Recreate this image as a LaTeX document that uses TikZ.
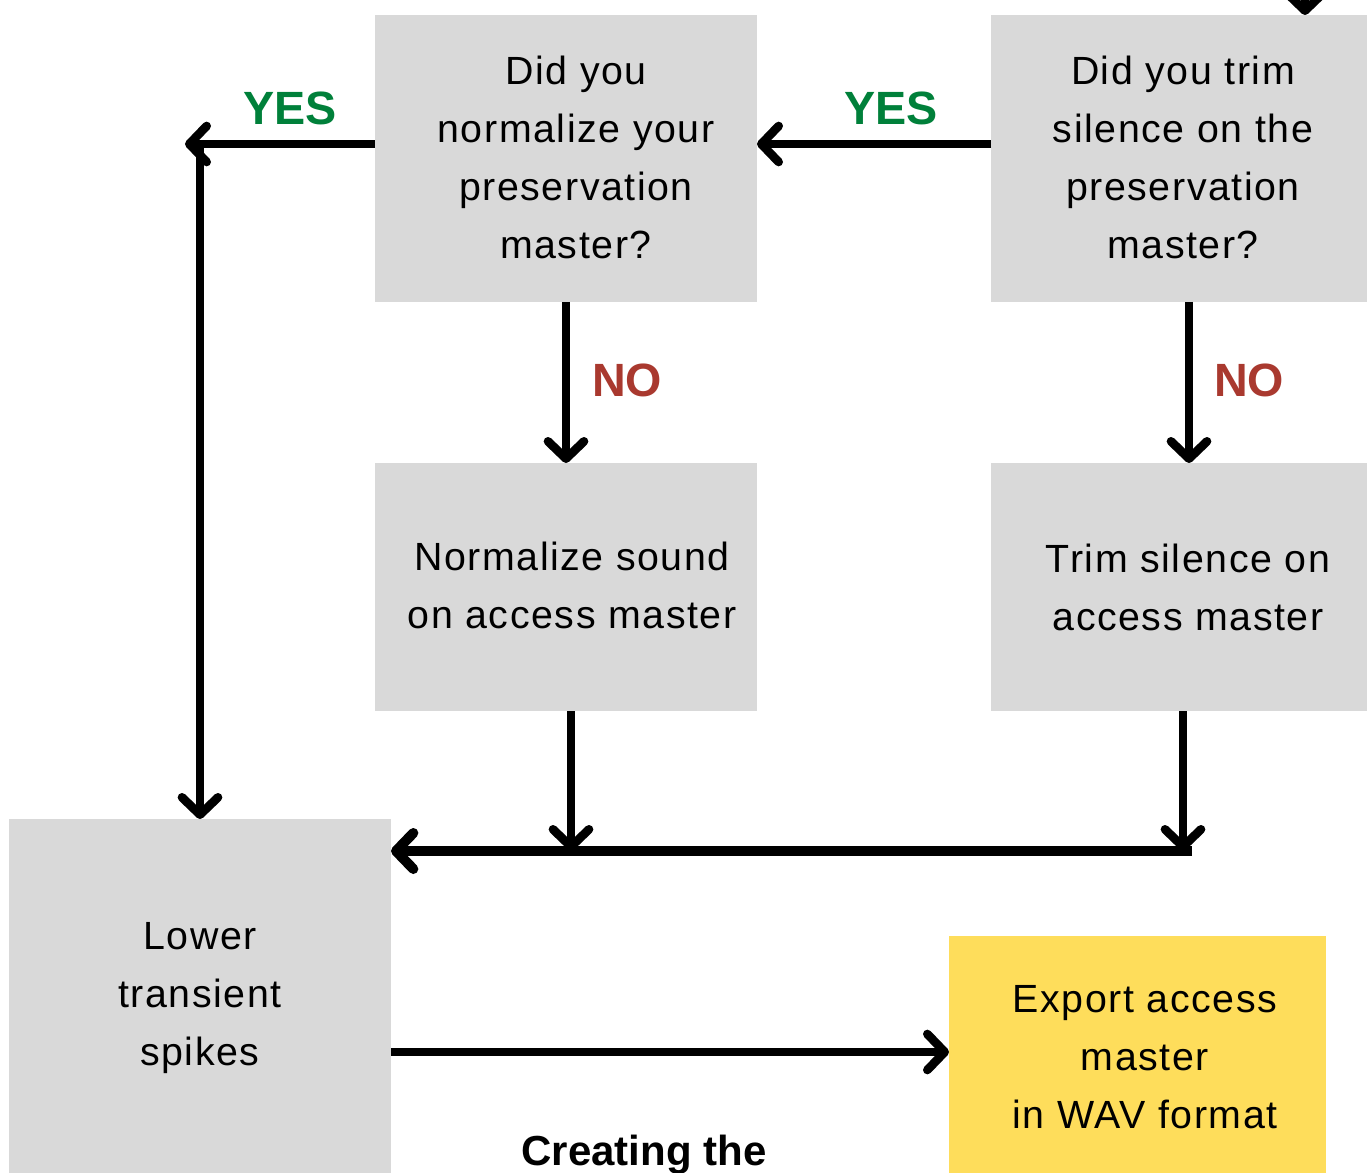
\documentclass[tikz,border=0pt]{standalone}
\usepackage{fontspec}
\setmainfont{Liberation Sans}
\newfontfamily\bodyfont[LetterSpace=4]{Liberation Sans}
\usetikzlibrary{arrows.meta,calc}
\definecolor{boxgray}{HTML}{D9D9D9}
\definecolor{boxyellow}{HTML}{FEDD5B}
\definecolor{yesgreen}{HTML}{00803A}
\definecolor{nored}{HTML}{A9392F}
\begin{document}
\begin{tikzpicture}[x=0.75pt,y=-0.75pt,
  box/.style={fill=boxgray,draw=none,inner sep=0pt,outer sep=0pt},
  txt/.style={align=center,font=\bodyfont\fontsize{29.5}{43.5}\selectfont,inner sep=0pt},
  yes/.style={font=\fontsize{35}{40}\selectfont\bfseries,text=yesgreen,inner sep=0pt},
  no/.style={font=\fontsize{35}{40}\selectfont\bfseries,text=nored,inner sep=0pt},
  arr/.style={line width=6.5pt,-{Straight Barb[length=13pt,width=27pt,round]}},
]
\useasboundingbox (0,0) rectangle (1367,1173);
\clip (0,0) rectangle (1367,1173);
% boxes
\node[box,minimum width=286.5pt,minimum height=215.25pt] (A) at (566,158.5) {};
\node[box,minimum width=282pt,minimum height=215.25pt] (B) at (1179,158.5) {};
\node[box,minimum width=286.5pt,minimum height=186pt] (C) at (566,587) {};
\node[box,minimum width=282pt,minimum height=186pt] (D) at (1179,587) {};
\node[box,minimum width=286.5pt,minimum height=270.75pt] (E) at (200,999.5) {};
\node[box,fill=boxyellow,minimum width=282.75pt,minimum height=183pt] (F) at (1137.5,1058) {};
% texts
\node[txt] (At) at (576,157) {Did you\\normalize your\\preservation\\master?};
\node[txt] (Bt) at (1183,157) {Did you trim\\silence on the\\preservation\\master?};
\node[txt] (Ct) at (572,585) {Normalize sound\\on access master};
\node[txt] (Dt) at (1188,587) {Trim silence on\\access master};
\node[txt] (Et) at (200,998) {Lower\\transient\\spikes};
\node[txt] (Ft) at (1145,1057) {Export access\\master\\in WAV format};
% labels
\node[yes] (yes1) at (891,108) {YES};
\node[yes] (yes2) at (290,108) {YES};
\node[no] (no1) at (627,380) {NO};
\node[no] (no2) at (1249,380) {NO};
\node[font=\fontsize{31.5}{36}\selectfont\bfseries,anchor=base,inner sep=0pt] (title) at (644,1165) {Creating the};
% coordinates
\coordinate (top) at (1305,-40);
\coordinate (yA) at (0,144);
\coordinate (yesL) at (185,144);
\coordinate (vtop) at (200,144);
\coordinate (xBD) at (1189,0);
\coordinate (j1) at (571,851);
\coordinate (j2) at (1183,851);
\coordinate (hR) at (1192,851);
\coordinate (yEF) at (0,1052);
% connectors
\draw[arr] (top) -- (top |- B.north);
\draw[arr] (B.west |- yA) -- (A.east |- yA);
\draw[arr] (A.west |- yA) -- (yesL);
\draw[arr] (vtop) -- (vtop |- E.north);
\draw[arr] (A.south) -- (C.north);
\draw[arr] (B.south -| xBD) -- (D.north -| xBD);
\draw[arr] (C.south -| j1) -- (j1);
\draw[arr] (D.south -| j2) -- (j2);
\draw[arr,line width=7.5pt] (hR) -- (E.east |- j1);
\draw[arr] (E.east |- yEF) -- (F.west |- yEF);
\end{tikzpicture}
\end{document}
